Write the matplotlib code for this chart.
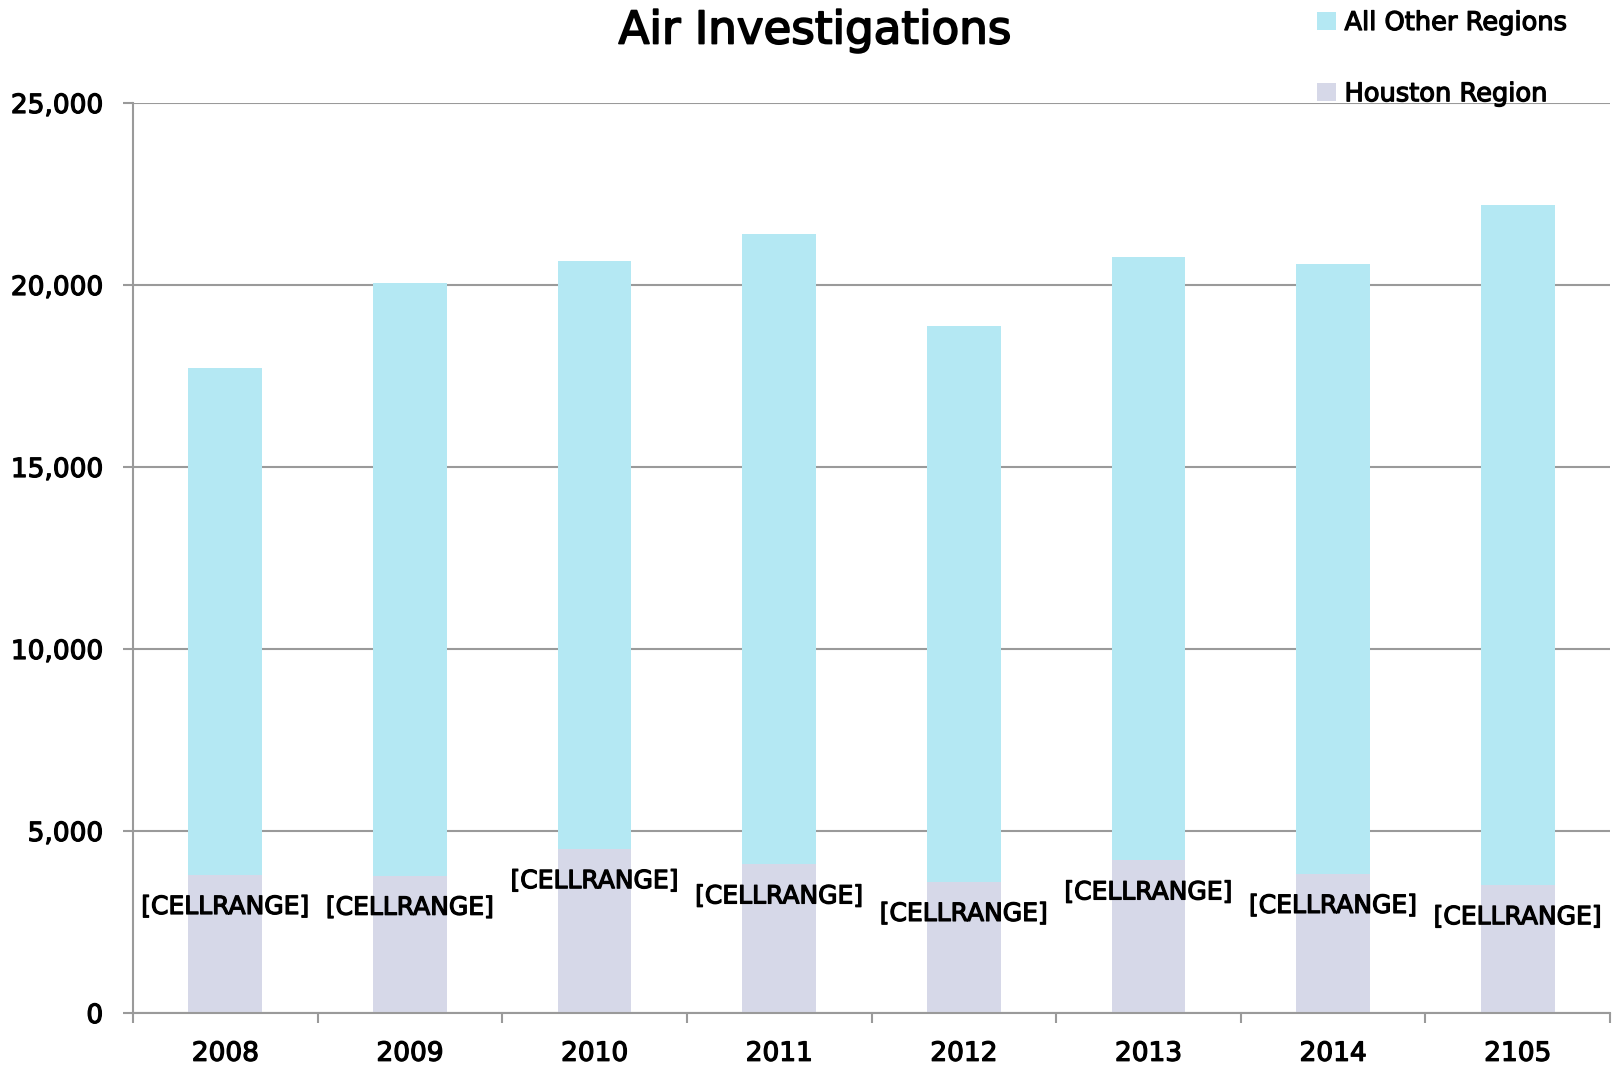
import matplotlib
matplotlib.use("Agg")
import matplotlib.pyplot as plt
from matplotlib.patches import Patch
from matplotlib.ticker import FuncFormatter, FixedLocator
import matplotlib.patheffects as pe
import numpy as np

years = ["2008", "2009", "2010", "2011", "2012", "2013", "2014", "2105"]
houston = [3790, 3770, 4500, 4080, 3600, 4190, 3820, 3510]
totals = [17720, 20050, 20670, 21400, 18860, 20780, 20580, 22200]
other = [t - h for t, h in zip(totals, houston)]
bar_labels = ["[CELLRANGE]"] * len(years)
title = "Air Investigations"
series_names = ["All Other Regions", "Houston Region"]

c_other = "#B4E8F3"
c_houston = "#D6D8E8"
grid_c = "#9A9A9A"

plt.rcParams['font.family'] = ['DejaVu Sans']
thick = [pe.withStroke(linewidth=0.9, foreground='black')]

fig = plt.figure(figsize=(16.16, 10.68), dpi=100)
ax = fig.add_axes([133/1616, 1 - 1013/1068, (1610-133)/1616, (1013-103)/1068])

x = np.arange(len(years))
w = 0.40
ax.bar(x, houston, width=w, color=c_houston, zorder=2, edgecolor='none')
ax.bar(x, other, width=w, bottom=houston, color=c_other, zorder=2, edgecolor='none')

for xi, h, lab in zip(x, houston, bar_labels):
    ax.annotate(lab, xy=(xi, h), xytext=(0, -23), textcoords='offset points',
                ha='center', va='center', fontsize=18, color='black', zorder=3,
                path_effects=thick)

ax.set_xlim(-0.5, len(years) - 0.5)
ax.set_ylim(0, 25000)
ax.set_axisbelow(True)
ax.yaxis.set_major_locator(FixedLocator(np.arange(0, 25001, 5000)))
ax.yaxis.set_major_formatter(FuncFormatter(lambda v, p: f"{int(v):,}"))
ax.grid(axis='y', color=grid_c, linewidth=1.5)

ax.set_xticks(np.arange(-0.5, len(years), 1.0))
ax.set_xticklabels([])
ax.set_xticks(x, minor=True)
ax.set_xticklabels(years, minor=True)
ax.tick_params(axis='x', which='major', length=7, width=1.5, color=grid_c, direction='out')
ax.tick_params(axis='x', which='minor', length=0, pad=20, labelsize=19)
ax.tick_params(axis='y', length=7, width=1.5, color=grid_c, pad=14.5, labelsize=19)
for lbl in ax.get_xticklabels(minor=True) + ax.get_yticklabels():
    lbl.set_path_effects(thick)

for s in ['top', 'right']:
    ax.spines[s].set_visible(False)
for s in ['left', 'bottom']:
    ax.spines[s].set_color(grid_c)
    ax.spines[s].set_linewidth(1.5)

fig.text(815/1616, 1 - 31/1068, title, ha='center', va='center', fontsize=32.5,
         path_effects=[pe.withStroke(linewidth=1.3, foreground='black')])

handles = [Patch(facecolor=c_other, edgecolor='none'), Patch(facecolor=c_houston, edgecolor='none')]
leg = fig.legend(handles, series_names, loc='upper left', bbox_to_anchor=(1317/1616, 1 - 10/1068),
                 frameon=False, fontsize=18.5, handlelength=0.72, handleheight=0.72,
                 handletextpad=0.35, labelspacing=1.76, borderpad=0, borderaxespad=0)
for t in leg.get_texts():
    t.set_path_effects(thick)

fig.savefig("out.png", dpi=100)
